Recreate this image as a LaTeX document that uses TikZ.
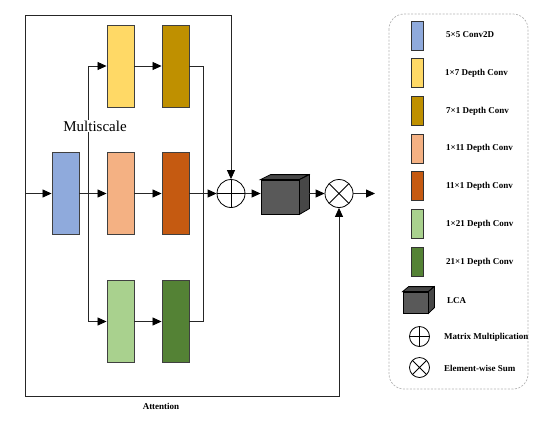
\documentclass[tikz,border=0pt]{standalone}
\usepackage{fontspec}
\setmainfont{Liberation Serif}
\usetikzlibrary{arrows.meta}
\definecolor{cblue}{HTML}{8FAADC}
\definecolor{cyel}{HTML}{FFD966}
\definecolor{cgold}{HTML}{BF9000}
\definecolor{cpeach}{HTML}{F4B183}
\definecolor{corange}{HTML}{C55A11}
\definecolor{clgreen}{HTML}{A9D18E}
\definecolor{cdgreen}{HTML}{548235}
\definecolor{ccube}{HTML}{595959}
\definecolor{ccubeside}{HTML}{474747}
\begin{document}
\begin{tikzpicture}[x=1pt,y=-1pt,
  box/.style={draw=black!75, line width=0.9pt, minimum width=27pt, minimum height=82pt, inner sep=0pt},
  lbox/.style={draw=black!80, line width=0.9pt, minimum width=12pt, minimum height=29pt, inner sep=0pt},
  arr/.style={-{Triangle[length=9pt,width=8pt,color=black,fill=black]}, line width=0.8pt, draw=black!85},
  ln/.style={line width=0.8pt, draw=black!85},
  lab/.style={anchor=west, font=\fontsize{9}{10}\selectfont\bfseries, inner sep=0pt},
  cubefront/.style={draw=black, line width=0.8pt, fill=ccube, inner sep=0pt},
  cubeface/.style={draw=black, line width=0.8pt, fill=ccubeside},
  oplus/.style={circle, draw, line width=0.8pt, minimum size=#1, inner sep=0pt,
    path picture={\draw[line width=0.8pt] (path picture bounding box.north) -- (path picture bounding box.south)
      (path picture bounding box.west) -- (path picture bounding box.east);}},
  otimes/.style={circle, draw, line width=0.8pt, minimum size=#1, inner sep=0pt,
    path picture={\draw[line width=0.8pt, shift={(path picture bounding box.center)}]
      (45:20pt) -- (225:20pt) (135:20pt) -- (315:20pt);}},
]
\useasboundingbox (0,0) rectangle (557,432);

% main blocks
\node[box, fill=cblue] (b) at (65.5,193.5) {};
\node[box, fill=cyel] (y1) at (120.5,66) {};
\node[box, fill=cgold] (y2) at (175.5,66) {};
\node[box, fill=cpeach] (p1) at (120.5,193.5) {};
\node[box, fill=corange] (p2) at (175.5,193.5) {};
\node[box, fill=clgreen] (g1) at (120.5,321.5) {};
\node[box, fill=cdgreen] (g2) at (175.5,321.5) {};

\node[oplus=28pt] (add) at (231,193.5) {};
\node[otimes=28pt] (mul) at (339,193.5) {};

% LCA cube
\node[cubefront, minimum width=38pt, minimum height=34pt] (lca) at (280,197) {};
\draw[cubeface] (lca.north west) -- ++(10,-5) -- ++(38,0) -- (lca.north east) -- cycle;
\draw[cubeface] (lca.north east) -- ++(10,-5) -- ++(0,34) -- (lca.south east) -- cycle;

% coordinates
\coordinate (in) at (25,193.5);
\coordinate (tl) at (25,15);
\coordinate (bl) at (25,396);
\coordinate (s) at (88,193.5);
\coordinate (m) at (203,193.5);
\coordinate (out) at (375,193.5);

% connectors
\draw[arr] (in) -- (b.west);
\draw[arr] (b.east) -- (p1.west);
\draw[arr] (s) |- (y1.west);
\draw[arr] (s) |- (g1.west);
\draw[arr] (y1.east) -- (y2.west);
\draw[arr] (p1.east) -- (p2.west);
\draw[arr] (g1.east) -- (g2.west);
\draw[ln] (y2.east) -| (m);
\draw[ln] (g2.east) -| (m);
\draw[arr] (p2.east) -- (add.west);
\draw[arr] (in) -- (tl) -| (add.north);
\draw[arr] (in) -- (bl) -| (mul.south);
\draw[arr] (add.east) -- (add.east -| lca.west);
\draw[arr] (mul.west -| lca.east) ++(10,0) -- (mul.west);
\draw[arr] (mul.east) -- (out);

\node[fill=white, inner sep=1pt, font=\fontsize{15}{18}\selectfont] (ms) at (95,126) {Multiscale};
\node[font=\fontsize{9}{10}\selectfont\bfseries] (att) at (161,406) {Attention};

% legend
\draw[gray!60, line width=0.7pt, dash pattern=on 2pt off 1.5pt, rounded corners=15pt] (389,14) rectangle (528,389);
\node[lbox, fill=cblue] (l1) at (417,35.5) {};
\node[lbox, fill=cyel] (l2) at (417,73) {};
\node[lbox, fill=cgold] (l3) at (417,110.5) {};
\node[lbox, fill=cpeach] (l4) at (417,148.5) {};
\node[lbox, fill=corange] (l5) at (417,186) {};
\node[lbox, fill=clgreen] (l6) at (417,224) {};
\node[lbox, fill=cdgreen] (l7) at (417,261.5) {};
\node[cubefront, minimum width=25pt, minimum height=21pt] (l8) at (415.5,302.5) {};
\draw[cubeface] (l8.north west) -- ++(6,-5) -- ++(25,0) -- (l8.north east) -- cycle;
\draw[cubeface] (l8.north east) -- ++(6,-5) -- ++(0,21) -- (l8.south east) -- cycle;
\node[oplus=20pt] (l9) at (419.5,336.5) {};
\node[otimes=20pt] (l10) at (419.5,367.5) {};

\node[lab] (t1) at (446,35) {5×5 Conv2D};
\node[lab] (t2) at (445,73) {1×7 Depth Conv};
\node[lab] (t3) at (446,111) {7×1 Depth Conv};
\node[lab] (t4) at (446,148) {1×11 Depth Conv};
\node[lab] (t5) at (446,186) {11×1 Depth Conv};
\node[lab] (t6) at (446,224) {1×21 Depth Conv};
\node[lab] (t7) at (446,262) {21×1 Depth Conv};
\node[lab] (t8) at (447,301) {LCA};
\node[lab] (t9) at (444,337) {Matrix Multiplication};
\node[lab] (t10) at (444,368) {Element-wise Sum};
\end{tikzpicture}
\end{document}
